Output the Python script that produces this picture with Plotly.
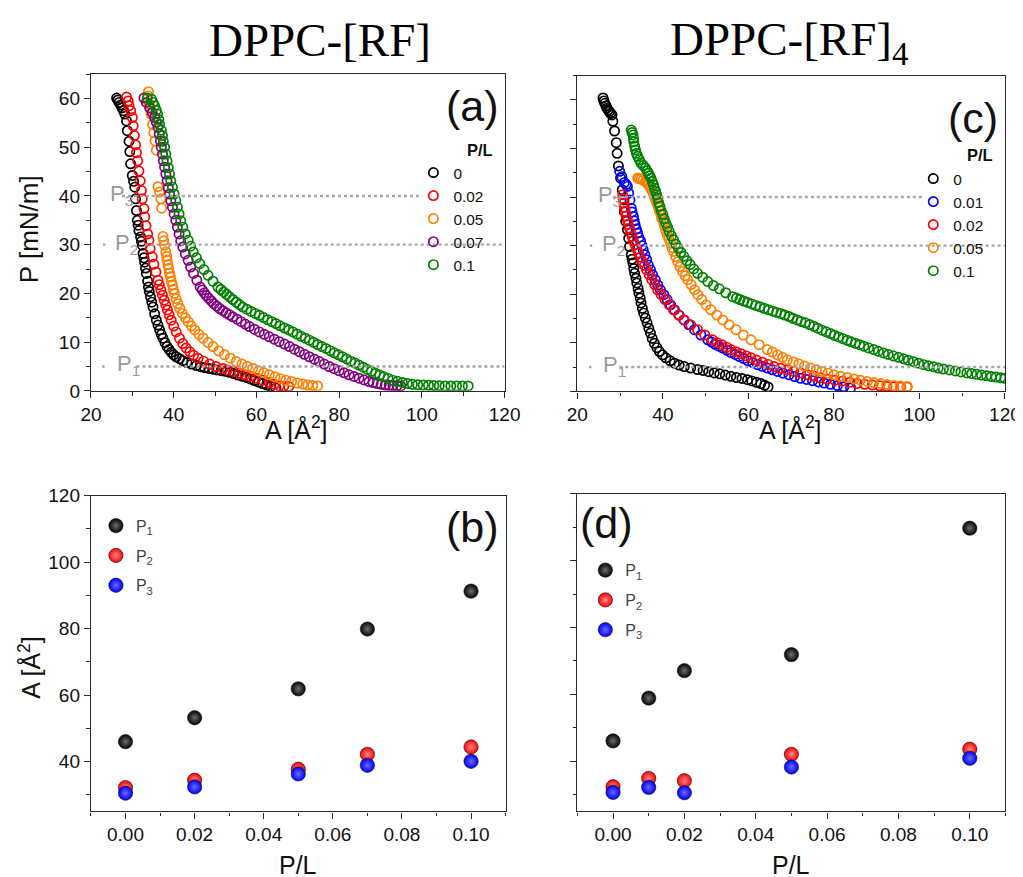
import plotly.graph_objects as go

W, H = 1031, 880
# screen placement compensation (page body margin + capture scaling)
S, TX, TY, BODY = 0.977, 8.0, 10.0, 8.0

# ---------------- Data: panel (a) DPPC-[RF] isotherms ----------------
a_labels = ["0", "0.02", "0.05", "0.07", "0.1"]
a_colors = ["#000000", "#ff0000", "#ff8000", "#800080", "#008000"]

a0_A = [26.2, 26.5, 26.8, 27.2, 27.5, 27.9, 28.2, 28.6, 28.8, 29.2, 29.4, 29.6, 30.0, 30.3, 30.6, 30.8, 31.0, 31.2, 31.4, 31.6,
        32.0, 32.2, 32.4, 32.6, 32.8, 33.0, 33.2, 33.4, 33.7, 33.9, 34.1, 34.4, 34.7, 35.0, 35.4, 35.8, 36.2, 36.6, 37.0, 37.4,
        37.9, 38.4, 38.9, 39.4, 40.0, 40.6, 41.4, 42.2, 43.2, 44.3, 45.5, 46.5, 47.5, 48.5, 49.5, 50.5, 51.5, 52.5, 53.5, 54.5,
        55.5, 56.5, 57.5, 58.5, 59.5, 60.5, 61.5, 62.5, 63.5, 64.7]
a0_P = [60.1, 59.7, 59.2, 58.7, 58.1, 57.5, 56.8, 55.4, 53.4, 51.2, 49.1, 46.6, 44.2, 43.0, 41.8, 39.4, 37.0, 35.0, 34.0, 32.9,
        31.6, 30.7, 29.9, 28.2, 27.3, 26.4, 25.2, 24.1, 22.5, 21.3, 20.4, 19.3, 18.2, 17.2, 15.8, 14.5, 13.5, 12.5, 11.6, 10.8,
        9.9, 9.1, 8.5, 7.9, 7.4, 7.0, 6.6, 6.2, 5.8, 5.5, 5.2, 4.95, 4.75, 4.6, 4.45, 4.3, 4.15, 4.0, 3.8, 3.55,
        3.25, 3.0, 2.75, 2.45, 2.1, 1.8, 1.5, 1.2, 0.9, 0.6]

a1_A = [28.6, 29.0, 29.2, 29.6, 30.0, 30.2, 30.5, 30.8, 31.0, 31.3, 31.6, 31.9, 32.2, 32.4, 32.8, 33.0, 33.3, 33.7, 34.0, 34.3,
        34.8, 35.2, 35.7, 36.2, 36.5, 36.9, 37.3, 37.7, 38.1, 38.5, 38.9, 39.4, 40.0, 40.6, 41.4, 42.2, 43.0, 43.9, 44.8, 45.9,
        47.2, 48.7, 50.2, 51.9, 53.0, 54.5, 55.9, 57.2, 58.5, 59.9, 61.5, 63.1, 64.3, 65.5, 66.6, 67.8]
a1_P = [60.3, 59.5, 58.5, 57.5, 56.1, 54.4, 52.4, 50.5, 48.9, 47.2, 45.1, 43.1, 41.1, 39.4, 37.4, 35.7, 33.9, 32.2, 30.9, 29.2,
        27.5, 26.0, 24.4, 22.7, 21.8, 20.7, 19.6, 18.6, 17.6, 16.6, 15.6, 14.5, 13.3, 12.1, 10.8, 9.7, 8.8, 8.0, 7.3, 6.7,
        6.1, 5.5, 5.0, 4.6, 4.3, 3.95, 3.6, 3.3, 2.95, 2.6, 2.2, 1.7, 1.35, 1.0, 0.95, 0.9]

a2_A = [33.9, 33.8, 34.1, 34.3, 34.5, 34.9, 35.2, 35.5, 35.8, 36.2, 36.6, 36.9, 37.1, 37.4, 37.6, 37.8, 38.1, 38.3, 38.4, 38.6,
        38.8, 39.0, 39.2, 39.4, 39.7, 39.9, 40.2, 40.6, 41.0, 41.5, 42.1, 42.8, 43.5, 44.3, 45.1, 46.1, 47.1, 48.3, 49.5, 50.9,
        52.3, 53.7, 55.1, 56.5, 57.8, 59.1, 60.5, 61.8, 63.1, 64.5, 65.8, 67.1, 68.5, 69.9, 71.2, 72.4, 73.6, 74.8]
a2_P = [61.4, 60.5, 58.8, 57.8, 56.8, 54.7, 53.0, 51.3, 49.4, 41.9, 40.8, 39.4, 37.5, 31.7, 30.8, 29.9, 28.5, 27.6, 26.8, 25.9,
        25.1, 24.2, 23.4, 22.5, 21.7, 20.8, 20.0, 18.9, 17.9, 16.9, 15.9, 15.0, 14.2, 13.3, 12.5, 11.6, 10.8, 9.9, 9.1, 8.2,
        7.4, 6.7, 6.0, 5.5, 5.0, 4.6, 4.1, 3.7, 3.3, 2.9, 2.5, 2.2, 1.9, 1.6, 1.4, 1.2, 1.1, 1.0]

a3_A = [32.8, 33.4, 34.2, 34.8, 35.4, 35.8, 36.2, 36.5, 36.8, 37.0, 37.3, 37.5, 37.8, 38.1, 38.4, 38.7, 39.0, 39.3, 39.7, 40.1,
        40.5, 40.9, 41.3, 41.7, 42.2, 42.8, 43.5, 44.1, 44.8, 45.6, 46.4, 46.9, 47.4, 47.9, 48.5, 49.1, 49.7, 50.4, 51.1, 51.9,
        52.7, 53.5, 54.3, 55.3, 56.3, 57.3, 58.3, 59.5, 60.7, 61.9, 63.1, 64.3, 65.5, 66.8, 68.0, 69.2, 70.4, 71.6, 72.8, 74.0,
        75.2, 76.4, 77.6, 78.8, 80.0, 81.2, 82.4, 83.6, 84.8, 86.0, 87.2, 88.2, 89.2, 90.2, 91.2, 92.1, 93.0, 94.0, 94.9]
a3_P = [60.1, 59.2, 58.1, 57.1, 56.1, 55.1, 54.1, 52.7, 51.3, 50.0, 48.6, 47.2, 45.9, 44.5, 43.1, 41.7, 40.4, 39.0, 37.7, 36.3,
        35.0, 33.6, 32.2, 30.8, 29.5, 28.1, 26.8, 25.4, 24.1, 22.7, 21.3, 20.7, 20.1, 19.55, 19.0, 18.45, 17.9, 17.4, 16.9, 16.45,
        16.0, 15.6, 15.2, 14.7, 14.2, 13.7, 13.2, 12.65, 12.1, 11.6, 11.1, 10.6, 10.1, 9.6, 9.1, 8.55, 8.0, 7.5, 7.0, 6.5,
        6.0, 5.5, 5.0, 4.55, 4.1, 3.7, 3.3, 2.95, 2.6, 2.25, 1.9, 1.7, 1.5, 1.35, 1.2, 1.15, 1.1, 1.05, 1.0]

a4_A = [33.6, 34.6, 35.0, 35.4, 35.8, 36.1, 36.4, 36.6, 37.0, 37.3, 37.5, 37.8, 38.1, 38.4, 38.7, 39.0, 39.3, 39.7, 40.1, 40.5,
        40.9, 41.3, 41.7, 42.2, 42.8, 43.5, 44.1, 44.7, 45.5, 46.3, 47.3, 48.3, 49.5, 50.7, 51.4, 52.1, 52.8, 53.5, 54.3, 55.1,
        55.9, 56.7, 57.7, 58.7, 59.7, 60.7, 61.7, 62.7, 63.7, 64.7, 65.7, 66.8, 67.8, 68.8, 69.8, 70.8, 71.8, 72.8, 73.8, 74.8,
        75.8, 76.8, 77.8, 78.8, 79.8, 80.8, 81.8, 82.8, 83.8, 84.8, 85.8, 86.8, 87.8, 88.8, 89.8, 90.8, 91.8, 92.9, 94.1, 95.3,
        96.5, 97.7, 99.0, 100.3, 101.6, 102.9, 104.2, 105.6, 107.0, 108.4, 109.8, 111.2]
a4_P = [60.1, 59.9, 59.2, 58.5, 57.6, 56.8, 55.7, 54.7, 53.5, 52.4, 51.2, 50.0, 48.6, 47.2, 45.8, 44.5, 43.1, 41.8, 40.4, 39.1,
        37.7, 36.3, 34.9, 33.6, 32.2, 30.9, 29.7, 28.5, 27.3, 26.1, 24.9, 23.7, 22.5, 21.3, 20.8, 20.3, 19.8, 19.3, 18.75, 18.2,
        17.7, 17.2, 16.75, 16.3, 15.9, 15.5, 15.05, 14.6, 14.2, 13.8, 13.35, 12.9, 12.5, 12.1, 11.65, 11.2, 10.8, 10.4, 9.95, 9.5,
        9.1, 8.7, 8.25, 7.8, 7.4, 7.0, 6.55, 6.1, 5.7, 5.3, 4.85, 4.4, 4.0, 3.6, 3.25, 2.9, 2.55, 2.2, 1.95, 1.7,
        1.5, 1.35, 1.25, 1.2, 1.15, 1.1, 1.05, 1.0, 1.0, 1.0, 1.0, 1.0]

# ---------------- Data: panel (c) DPPC-[RF]4 isotherms ----------------
c_labels = ["0", "0.01", "0.02", "0.05", "0.1"]
c_colors = ["#000000", "#0000ff", "#ff0000", "#ff8000", "#008000"]

c0_A = [26.0, 26.2, 26.4, 26.7, 26.9, 27.2, 27.5, 27.8, 28.1, 28.3, 28.7, 29.1, 29.3, 29.6, 30.1, 30.5, 30.9, 31.0, 31.3, 31.7,
        32.0, 32.2, 32.6, 32.8, 33.0, 33.2, 33.4, 33.7, 33.9, 34.2, 34.4, 34.7, 34.9, 35.2, 35.5, 35.9, 36.3, 36.7, 37.1, 37.5,
        38.0, 38.6, 39.2, 39.9, 40.7, 41.7, 42.7, 43.8, 45.0, 46.5, 48.1, 49.4, 50.7, 52.0, 53.3, 54.6, 55.9, 57.2, 58.5, 59.8,
        60.8, 61.9, 62.9, 63.8, 64.6]
c0_P = [60.4, 59.8, 59.3, 58.8, 58.3, 57.9, 57.6, 57.2, 56.9, 55.6, 53.6, 51.2, 49.0, 46.4, 43.9, 41.5, 39.4, 37.0, 35.0, 33.3,
        31.5, 29.8, 28.1, 27.2, 26.4, 25.3, 24.3, 23.3, 22.3, 21.2, 20.2, 19.2, 18.2, 17.1, 16.1, 15.1, 14.1, 13.0, 12.0, 10.9,
        9.9, 9.0, 8.2, 7.5, 6.9, 6.3, 5.8, 5.4, 5.1, 4.8, 4.5, 4.3, 4.05, 3.8, 3.6, 3.35, 3.1, 2.85, 2.65, 2.4,
        2.15, 1.85, 1.6, 1.25, 0.9]

c1_A = [29.9, 30.4, 31.0, 31.4, 31.7, 32.0, 32.3, 32.6, 32.8, 33.1, 33.3, 33.5, 33.8, 34.1, 34.4, 34.8, 35.1, 35.4, 35.8, 36.2,
        36.6, 37.1, 37.6, 38.2, 38.8, 39.4, 40.2, 41.0, 41.8, 42.7, 43.8, 44.9, 46.1, 47.4, 48.9, 50.5, 51.4, 52.2, 53.1, 54.0,
        55.0, 55.9, 56.9, 57.8, 58.9, 59.9, 61.0, 62.1, 63.2, 64.4, 65.6, 66.8, 68.1, 69.5, 70.8, 72.2, 73.6, 75.0, 76.4, 77.7,
        79.2, 80.8, 82.3, 83.9]
c1_P = [45.3, 44.2, 43.0, 42.6, 42.2, 40.8, 39.4, 37.7, 36.9, 36.0, 35.1, 34.3, 33.4, 32.6, 31.7, 30.9, 30.0, 29.1, 28.1, 27.1,
        26.0, 25.0, 24.0, 23.0, 21.9, 20.9, 19.9, 18.9, 17.8, 16.8, 15.7, 14.7, 13.7, 12.7, 11.6, 10.6, 10.15, 9.7, 9.3, 8.9,
        8.45, 8.0, 7.6, 7.2, 6.75, 6.3, 5.9, 5.5, 5.15, 4.8, 4.45, 4.1, 3.75, 3.4, 3.05, 2.7, 2.45, 2.2, 1.95, 1.7,
        1.45, 1.2, 0.95, 0.7]

c2_A = [30.6, 30.7, 30.9, 31.0, 31.2, 31.4, 31.7, 31.9, 32.2, 32.5, 32.8, 33.1, 33.5, 33.9, 34.3, 34.7, 35.2, 35.7, 36.2, 36.8,
        37.4, 38.1, 38.8, 39.6, 40.5, 41.5, 42.5, 43.7, 45.0, 46.5, 48.1, 49.8, 51.6, 52.7, 53.8, 54.9, 55.9, 57.1, 58.3, 59.5,
        60.6, 61.9, 63.3, 64.6, 66.0, 67.5, 69.1, 70.6, 72.2, 73.7, 75.3, 76.8, 78.4, 80.2, 81.9, 83.7, 85.4, 87.2, 89.0, 90.7,
        92.4, 94.0, 95.6, 97.1]
c2_P = [40.5, 39.6, 38.8, 37.9, 37.0, 36.1, 35.3, 34.4, 33.6, 32.7, 31.9, 31.0, 30.2, 29.3, 28.5, 27.6, 26.7, 25.9, 25.0, 24.0,
        23.0, 22.0, 20.9, 19.9, 18.9, 17.8, 16.8, 15.7, 14.7, 13.7, 12.7, 11.6, 10.6, 10.0, 9.6, 9.1, 8.6, 8.15, 7.75, 7.3,
        6.9, 6.45, 6.0, 5.55, 5.1, 4.75, 4.4, 4.1, 3.8, 3.45, 3.15, 2.8, 2.5, 2.3, 2.1, 1.85, 1.6, 1.45, 1.3, 1.15,
        1.0, 0.95, 0.9, 0.9]

c3_A = [34.1, 34.5, 34.9, 35.4, 35.9, 36.3, 36.6, 37.0, 37.4, 37.7, 38.0, 38.3, 38.6, 38.9, 39.2, 39.5, 39.7, 40.1, 40.4, 40.7,
        41.0, 41.4, 41.8, 42.1, 42.5, 43.0, 43.5, 44.0, 44.6, 45.2, 45.8, 46.6, 47.4, 48.2, 49.1, 50.1, 51.2, 52.6, 54.0, 55.5,
        57.1, 58.8, 60.6, 62.5, 64.4, 65.6, 66.8, 68.0, 69.1, 70.5, 71.8, 73.1, 74.5, 75.9, 77.2, 78.6, 80.0, 81.5, 83.1, 84.7,
        86.2, 87.8, 89.3, 90.9, 92.4, 94.0, 95.5, 97.1]
c3_P = [43.9, 43.8, 43.7, 43.5, 43.2, 42.9, 42.5, 42.0, 41.4, 40.8, 40.1, 39.5, 38.8, 38.0, 37.2, 36.5, 35.7, 34.9, 34.0, 33.1,
        32.2, 31.4, 30.5, 29.6, 28.8, 27.7, 26.7, 25.7, 24.7, 23.8, 23.0, 22.0, 20.9, 19.9, 18.9, 17.8, 16.8, 15.7, 14.7, 13.7,
        12.7, 11.6, 10.6, 9.6, 8.6, 8.1, 7.5, 7.0, 6.5, 6.05, 5.65, 5.2, 4.8, 4.45, 4.1, 3.75, 3.4, 3.1, 2.85, 2.55,
        2.3, 2.05, 1.8, 1.6, 1.4, 1.2, 1.1, 1.0]

c4_A = [32.6, 32.8, 33.0, 33.1, 33.2, 33.4, 33.6, 33.8, 34.1, 34.5, 34.9, 35.4, 35.9, 36.3, 36.6, 36.9, 37.2, 37.5, 37.8, 38.0,
        38.3, 38.5, 38.8, 39.0, 39.3, 39.6, 40.0, 40.3, 40.7, 41.1, 41.5, 42.0, 42.5, 43.0, 43.6, 44.2, 44.9, 45.6, 46.4, 47.2,
        48.1, 49.3, 50.5, 51.8, 53.2, 54.7, 56.3, 57.2, 58.0, 58.9, 59.8, 60.8, 61.7, 62.7, 63.7, 64.7, 65.7, 66.6, 67.6, 68.5,
        69.5, 70.4, 71.4, 72.3, 73.3, 74.3, 75.3, 76.2, 77.2, 78.2, 79.2, 80.1, 81.1, 82.1, 83.1, 84.0, 85.0, 86.0, 87.0, 88.1,
        89.3, 90.4, 91.6, 92.7, 93.9, 95.1, 96.3, 97.4, 98.6, 99.8, 101.0, 102.1, 103.3, 104.4, 105.6, 107.0, 108.4, 109.7, 111.1, 112.2,
        113.4, 114.5, 115.7, 116.8, 117.9, 119.0, 120.0]
c4_P = [53.8, 53.3, 52.8, 52.1, 51.4, 50.5, 49.7, 49.0, 48.4, 47.7, 47.0, 46.5, 46.0, 45.4, 44.9, 44.4, 43.9, 43.2, 42.5, 41.8,
        41.2, 40.5, 39.8, 38.9, 38.1, 37.2, 36.4, 35.5, 34.6, 33.8, 32.9, 32.0, 31.2, 30.3, 29.5, 28.6, 27.8, 26.9, 26.1, 25.2,
        24.3, 23.5, 22.6, 21.8, 21.1, 20.3, 19.5, 19.2, 18.9, 18.6, 18.3, 18.0, 17.7, 17.4, 17.1, 16.8, 16.5, 16.25, 16.0, 15.7,
        15.4, 15.05, 14.7, 14.4, 14.1, 13.75, 13.4, 13.0, 12.6, 12.25, 11.9, 11.55, 11.2, 10.85, 10.5, 10.2, 9.9, 9.6, 9.3, 8.95,
        8.6, 8.25, 7.9, 7.6, 7.3, 7.0, 6.7, 6.4, 6.1, 5.8, 5.5, 5.25, 5.05, 4.8, 4.6, 4.4, 4.2, 4.0, 3.8, 3.65,
        3.5, 3.35, 3.2, 3.05, 2.95, 2.8, 2.7]

# ---------------- Data: panels (b) and (d) ----------------
b_PL = [0.00, 0.02, 0.05, 0.07, 0.10]
b_P1 = [46.0, 53.2, 61.9, 79.9, 91.3]
b_P2 = [32.2, 34.4, 37.7, 42.2, 44.4]
b_P3 = [30.5, 32.4, 36.3, 38.9, 40.1]
b_P1_err = [0.4, 0.4, 0.4, 0.4, 1.0]

d_PL = [0.00, 0.01, 0.02, 0.05, 0.10]
d_P1 = [46.1, 58.9, 67.1, 71.9, 109.7]
d_P2 = [32.4, 34.9, 34.2, 42.1, 43.6]
d_P3 = [30.7, 32.2, 30.6, 38.3, 40.9]
d_P1_err = [0.4, 0.4, 0.4, 0.4, 1.6]

# reference pressure levels and extents of dotted lines [start, end] in A
levels = [5, 30, 40]
level_names = ["P<sub>1</sub>", "P<sub>2</sub>", "P<sub>3</sub>"]
a_line_ext = [[31.0, 120], [33.0, 120], [27.5, 100.1]]
c_line_ext = [[29.8, 120], [34.1, 120], [28.3, 100.6]]
a_label_x = [25.7, 25.3, 24.1]
c_label_x = [25.6, 25.2, 24.4]

a_series = [(a0_A, a0_P), (a1_A, a1_P), (a2_A, a2_P), (a3_A, a3_P), (a4_A, a4_P)]
c_series = [(c0_A, c0_P), (c1_A, c1_P), (c2_A, c2_P), (c3_A, c3_P), (c4_A, c4_P)]

FONT = "Liberation Sans, Arial, sans-serif"
AX = "#2a2a2a"


def fx(r):
    return ((r - TX) / S - BODY) / W


def fy(r):
    return 1 - ((r - TY) / S - BODY) / H


fig = go.Figure()

for (xs, ys), col, lab in zip(a_series, a_colors, a_labels):
    fig.add_trace(go.Scatter(x=xs, y=ys, mode="markers", name=lab, legend="legend",
                             marker=dict(symbol="circle-open", size=9.3, color=col, line=dict(width=1.7, color=col)),
                             xaxis="x", yaxis="y"))
for (xs, ys), col, lab in zip(c_series, c_colors, c_labels):
    fig.add_trace(go.Scatter(x=xs, y=ys, mode="markers", name=lab, legend="legend2",
                             marker=dict(symbol="circle-open", size=9.3, color=col, line=dict(width=1.7, color=col)),
                             xaxis="x2", yaxis="y2"))

# dotted reference lines
for ext_list, xa, ya in [(a_line_ext, "x", "y"), (c_line_ext, "x2", "y2")]:
    for lev, ext in zip(levels, ext_list):
        fig.add_trace(go.Scatter(x=ext, y=[lev, lev], mode="lines", showlegend=False, hoverinfo="skip",
                                 line=dict(color="#a6a6a6", width=2.4, dash="dot"), xaxis=xa, yaxis=ya))
    fig.add_trace(go.Scatter(x=[23.0, 23.2], y=levels[:2], mode="markers", showlegend=False, hoverinfo="skip",
                             marker=dict(symbol="square", size=2.4, color="#a6a6a6"), xaxis=xa, yaxis=ya))


def sphere(col, hi):
    return dict(symbol="circle", size=14.3, color=col, line=dict(width=0.6, color="#111111"),
                gradient=dict(type="radial", color=hi))


pt_names = ["P<sub>1</sub>", "P<sub>2</sub>", "P<sub>3</sub>"]
pt_cols = [("#050505", "#6e6e6e"), ("#ff0000", "#ff8c8c"), ("#0000ff", "#6a6aff")]
for xs, series, errs, xa, ya, lg in [(b_PL, [b_P1, b_P2, b_P3], b_P1_err, "x3", "y3", "legend3"),
                                     (d_PL, [d_P1, d_P2, d_P3], d_P1_err, "x4", "y4", "legend4")]:
    for k, (ys, nm, (c, hi)) in enumerate(zip(series, pt_names, pt_cols)):
        kw = {}
        if k == 0:
            kw["error_y"] = dict(type="data", array=errs, visible=True, color="#111111", thickness=1.3, width=0)
        fig.add_trace(go.Scatter(x=xs, y=ys, mode="markers", name=nm, legend=lg, legendgroup=lg + nm,
                                 marker=sphere(c, hi), xaxis=xa, yaxis=ya, **kw))


def xd(p0, p1):
    return [fx(p0), fx(p1)]


def yd(p_top, p_bot):
    return [fy(p_bot), fy(p_top)]


base = dict(showline=True, linecolor=AX, linewidth=1.3, mirror=True, ticks="outside", ticklen=6, tickwidth=1.3,
            tickcolor=AX, showgrid=False, zeroline=False, tickfont=dict(family=FONT, size=19, color="#111111"))
mn = dict(ticks="outside", ticklen=3.5, tickcolor=AX, tickwidth=1.2)
mn_in = dict(ticks="inside", ticklen=3.5, tickcolor=AX, tickwidth=1.2)
inner = dict(showline=False, ticks="inside", ticklen=6, tickwidth=1.3, tickcolor=AX, showgrid=False,
             zeroline=False, showticklabels=False, fixedrange=True)

panels = [  # (x-domain px, y-domain px top/bottom, x-range, y-range, xdtick, xminor, ydtick, yminor)
    ((88, 503), (74, 391), [20, 120], [0, 65], 20, 10, 10, 5),
    ((576, 1005), (75.5, 391.5), [20, 120], [0, 65], 20, 10, 10, 5),
    ((88, 504), (496, 812), [-0.01, 0.11], [25, 120], 0.02, 0.01, 20, 10),
    ((576, 1005.5), (494, 812), [-0.01, 0.11], [25, 120], 0.02, 0.01, 20, 10),
]

layout = dict(width=W, height=H, margin=dict(l=0, r=0, t=0, b=0), paper_bgcolor="white", plot_bgcolor="white",
              font=dict(family=FONT, color="#111111"))
for i, (xdp, ydp, xr, yr, xdt, xmn, ydt, ymn) in enumerate(panels):
    n = i + 1
    sfx = "" if n == 1 else str(n)
    xa = dict(base, domain=xd(*xdp), range=xr, dtick=xdt, anchor="y" + sfx, minor=dict(mn, dtick=xmn))
    ya = dict(base, domain=yd(*ydp), range=yr, tick0=0, dtick=ydt, anchor="x" + sfx, minor=dict(mn, dtick=ymn))
    if n >= 3:
        xa["tickformat"] = ".2f"
    if n in (2, 4):
        ya["showticklabels"] = False
    layout["xaxis" + sfx] = xa
    layout["yaxis" + sfx] = ya
    # mirrored top / right axes with inward ticks
    layout["xaxis" + str(n + 4)] = dict(inner, overlaying="x" + sfx, side="top", anchor="y" + sfx, range=xr,
                                        dtick=xdt, minor=dict(mn_in, dtick=xmn))
    layout["yaxis" + str(n + 4)] = dict(inner, overlaying="y" + sfx, side="right", anchor="x" + sfx, range=yr,
                                        tick0=0, dtick=ydt, minor=dict(mn_in, dtick=ymn))

leg_common = dict(bgcolor="rgba(0,0,0,0)", borderwidth=0, xanchor="left", yanchor="top",
                  itemclick=False, itemdoubleclick=False)
layout["legend"] = dict(leg_common, x=fx(411.5), y=fy(156), font=dict(family=FONT, size=15.4, color="#111111"))
layout["legend2"] = dict(leg_common, x=fx(913), y=fy(162), font=dict(family=FONT, size=15.4, color="#111111"))
layout["legend3"] = dict(leg_common, x=fx(93), y=fy(509), font=dict(family=FONT, size=16, color="#444444"),
                         tracegroupgap=6)
layout["legend4"] = dict(leg_common, x=fx(584), y=fy(553.5), font=dict(family=FONT, size=16, color="#444444"),
                         tracegroupgap=6)
fig.update_layout(**layout)

ann = []


def pann(text, xp, yp, size, family=FONT, color="#111111", **kw):
    ann.append(dict(text=text, x=fx(xp), y=fy(yp), xref="paper", yref="paper", showarrow=False,
                    font=dict(family=family, size=size, color=color), xanchor="center", yanchor="middle", **kw))


SERIF = "Liberation Serif, Times New Roman, serif"
pann("DPPC-[RF]", 318, 40, 47, family=SERIF, color="#000000")
pann("DPPC-[RF]<sub>4</sub>", 788, 42, 47, family=SERIF, color="#000000")
pann("(a)", 471, 106, 43)
pann("(c)", 973, 118, 43)
pann("(b)", 471, 527, 43)
pann("(d)", 605, 523, 43)
pann("<b>P/L</b>", 478, 150, 16.5)
pann("<b>P/L</b>", 980, 155, 16.5)
pann("P [mN/m]", 26, 229, 26, textangle=-90)
pann("A [Å<sup>2</sup>]", 26, 668, 25, textangle=-90)
pann("A [Å<sup>2</sup>]", 294, 428, 25)
pann("A [Å<sup>2</sup>]", 790, 428, 25)
pann("P/L", 296, 866, 25)
pann("P/L", 790, 866, 25)

for xs, xa, ya in [(a_label_x, "x", "y"), (c_label_x, "x2", "y2")]:
    for lev, nm, lx in zip(levels, level_names, xs):
        ann.append(dict(text=nm, x=lx, y=lev, xref=xa, yref=ya, showarrow=False, xanchor="left",
                        yanchor="middle", yshift=1, font=dict(family=FONT, size=22, color="#9a9a9a")))

fig.update_layout(annotations=ann)
fig.write_html("out.html")
